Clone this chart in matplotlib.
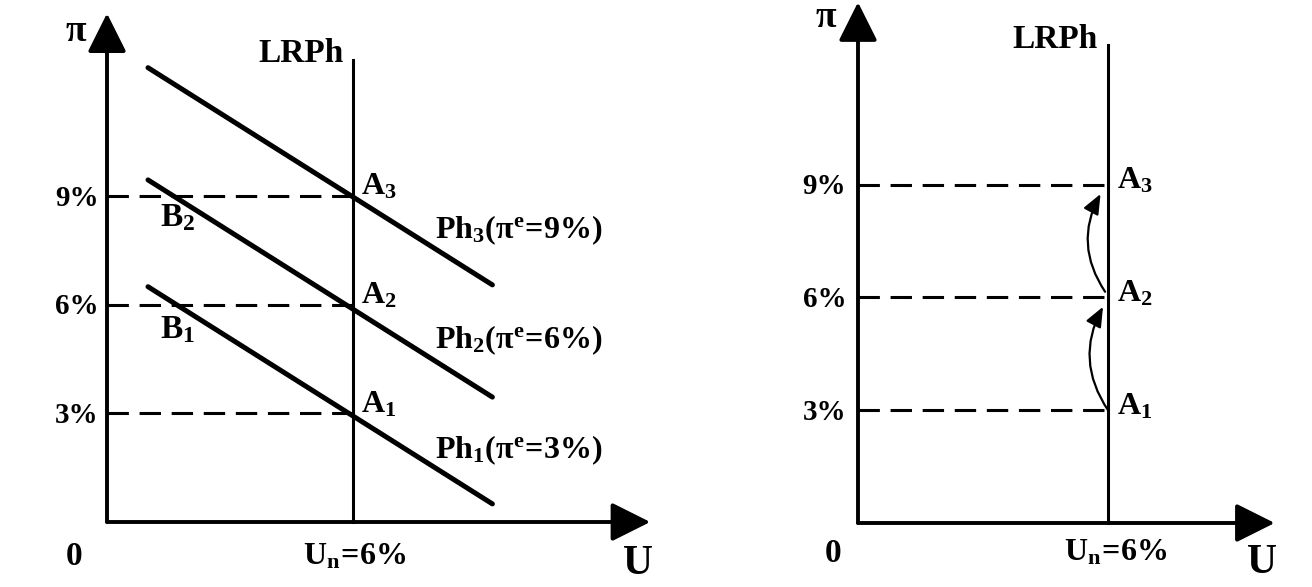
import matplotlib
matplotlib.use("Agg")
import matplotlib.pyplot as plt

# ---------------- data ----------------
pi_levels = [3, 6, 9]                 # expected inflation levels (%)
pi_labels = ["3%", "6%", "9%"]
u_natural = 6                          # natural unemployment rate
ph_u = [1.0, 9.4]                      # U range of the short-run Phillips curves
ph1_pi = [6.5, 0.5]
ph2_pi = [9.45, 3.45]
ph3_pi = [12.55, 6.55]
ph_labels = [r"$\mathbf{Ph_1(\pi^e\!=\!3\%)}$",
             r"$\mathbf{Ph_2(\pi^e\!=\!6\%)}$",
             r"$\mathbf{Ph_3(\pi^e\!=\!9\%)}$"]
lrph_top_left = 12.75
lrph_top_right = 12.7
# curved arrows (right panel): A1 -> A2, A2 -> A3
arrow1 = [(6.0, 3.0), (5.88, 5.75)]
arrow2 = [(5.93, 6.15), (5.82, 8.75)]

plt.rcParams['mathtext.fontset'] = 'custom'
plt.rcParams['mathtext.rm'] = 'Liberation Serif'
plt.rcParams['mathtext.it'] = 'Liberation Serif:italic'
plt.rcParams['mathtext.bf'] = 'Liberation Serif:bold'
plt.rcParams['font.family'] = ['Liberation Serif', 'DejaVu Serif']

W, H = 1312, 587
fig = plt.figure(figsize=(W / 100, H / 100), dpi=100)


def place(ox, oy, sx, sy, xlim, ylim):
    left = ox + xlim[0] * sx
    right = ox + xlim[1] * sx
    bottom = oy - ylim[0] * sy
    top = oy - ylim[1] * sy
    ax = fig.add_axes([left / W, (H - bottom) / H, (right - left) / W, (bottom - top) / H])
    ax.set_xlim(*xlim)
    ax.set_ylim(*ylim)
    ax.axis("off")
    return ax


B = dict(fontweight="bold", color="k")


def axes_arrows(ax, xtip, ytip):
    ap = dict(arrowstyle="-|>,head_length=0.8,head_width=0.4", lw=2.8, color="k",
              mutation_scale=30, shrinkA=0, shrinkB=0)
    ax.annotate("", xy=(xtip, 0), xytext=(0, 0), arrowprops=ap)
    ax.annotate("", xy=(0, ytip), xytext=(0, 0), arrowprops=ap)


def dashed(ax):
    for p in pi_levels:
        ax.plot([0, u_natural], [p, p], color="k", lw=2.2, dashes=(7, 3.5), solid_capstyle="butt")


# ---------------- left panel ----------------
axL = place(107, 522, 41.0, 36.2, (-2.6, 14.0), (-1.8, 14.4))
axes_arrows(axL, 13.25, 14.05)
dashed(axL)
axL.plot([u_natural, u_natural], [0, lrph_top_left], color="k", lw=2.2)
for ys in (ph1_pi, ph2_pi, ph3_pi):
    axL.plot(ph_u, ys, color="k", lw=3.6, solid_capstyle="round")

axL.text(-0.75, 13.55, "π", fontsize=27, ha="center", va="center", **B)
axL.text(5.78, 12.93, "LRPh", ha="right", va="center", fontsize=24, **B)
for p, lab in zip(pi_levels, pi_labels):
    axL.text(-0.2, p - 0.05, lab, ha="right", va="center", fontsize=21, **B)
for p, i in zip(pi_levels, [1, 2, 3]):
    axL.text(6.2, p + 0.25, r"$\mathbf{A_%d}$" % i, ha="left", va="center", fontsize=23)
axL.text(1.73, 8.4, r"$\mathbf{B_2}$", ha="center", va="center", fontsize=24)
axL.text(1.73, 5.3, r"$\mathbf{B_1}$", ha="center", va="center", fontsize=24)
for p, lab in zip([1.99, 5.03, 8.07], ph_labels):
    axL.text(8.0, p, lab, ha="left", va="center", fontsize=23)
axL.text(-0.8, -0.95, "0", ha="center", va="center", fontsize=24, **B)
axL.text(6.05, -0.95, r"$\mathbf{U_n\!=\!6\%}$", ha="center", va="center", fontsize=23)
axL.text(12.95, -1.15, "U", ha="center", va="center", fontsize=30, **B)

# ---------------- right panel ----------------
axR = place(858, 523, 41.67, 37.6, (-2.2, 10.8), (-1.7, 13.9))
axes_arrows(axR, 10.0, 13.85)
dashed(axR)
axR.plot([u_natural, u_natural], [0, lrph_top_right], color="k", lw=2.2)
ap2 = dict(arrowstyle="-|>,head_length=0.6,head_width=0.25", lw=1.6, color="k",
           mutation_scale=20, shrinkA=0, shrinkB=0, connectionstyle="arc3,rad=-0.3")
for (s, e) in (arrow1, arrow2):
    axR.annotate("", xy=e, xytext=s, arrowprops=ap2)

axR.text(-0.77, 13.45, "π", fontsize=27, ha="center", va="center", **B)
axR.text(5.76, 12.85, "LRPh", ha="right", va="center", fontsize=24, **B)
for p, lab in zip(pi_levels, pi_labels):
    axR.text(-0.28, p - 0.05, lab, ha="right", va="center", fontsize=21, **B)
for p, i in zip(pi_levels, [1, 2, 3]):
    axR.text(6.22, p + 0.1, r"$\mathbf{A_%d}$" % i, ha="left", va="center", fontsize=23)
axR.text(-0.6, -0.8, "0", ha="center", va="center", fontsize=24, **B)
axR.text(6.19, -0.8, r"$\mathbf{U_n\!=\!6\%}$", ha="center", va="center", fontsize=23)
axR.text(9.7, -1.07, "U", ha="center", va="center", fontsize=30, **B)

fig.savefig("out.png", dpi=100, facecolor="white")
